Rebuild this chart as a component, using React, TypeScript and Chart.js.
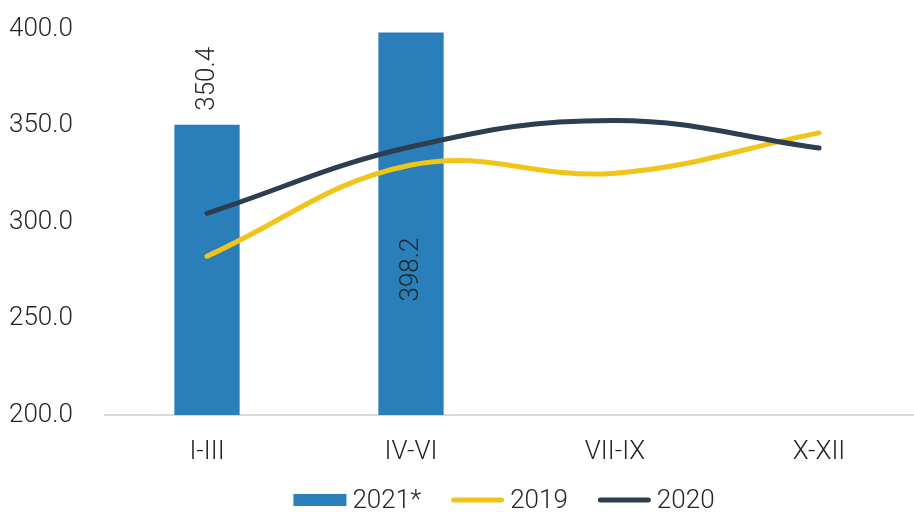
import React, { useEffect, useRef } from "react";
import { Chart, registerables } from "chart.js";

Chart.register(...registerables);

const categories = ["I-III", "IV-VI", "VII-IX", "X-XII"];
const values2021 = [350.4, 398.2, null, null];
const values2019 = [282.3, 329.5, 325.3, 346.2];
const values2020 = [304.5, 339.0, 352.6, 338.3];
const barLabels = ["350.4", "398.2"];

const FONT = "Roboto";
const TEXT = "#262626";
const FS = 26;

const barLabelPlugin = {
  id: "barLabelPlugin",
  afterDatasetsDraw(chart: any, _args: any, opts: any) {
    const ctx = chart.ctx;
    const meta = chart.getDatasetMeta(0);
    const shifts: number[] = opts.shifts || [];
    ctx.save();
    ctx.fillStyle = TEXT;
    ctx.font = `300 ${FS}px ${FONT}`;
    ctx.textAlign = "left";
    ctx.textBaseline = "middle";
    meta.data.forEach((el: any, i: number) => {
      if (!barLabels[i]) return;
      const x = el.x;
      const y = el.y + (shifts[i] || 0);
      ctx.save();
      ctx.translate(x, y);
      ctx.rotate(-Math.PI / 2);
      ctx.fillText(barLabels[i], 0, 0);
      ctx.restore();
    });
    ctx.restore();
  },
};

const legendPlugin = {
  id: "customLegend",
  afterDraw(chart: any, _args: any, opts: any) {
    const ctx = chart.ctx;
    const items = chart.data.datasets;
    const boxW = 53;
    const gapText = 6;
    const gapItem = 30;
    ctx.save();
    ctx.font = `300 ${FS}px ${FONT}`;
    ctx.textBaseline = "middle";
    ctx.textAlign = "left";
    const widths = items.map((d: any) => boxW + gapText + ctx.measureText(d.label).width);
    const total = widths.reduce((s: number, w: number) => s + w, 0) + gapItem * (items.length - 1);
    let x = opts.cx - total / 2;
    const cy = opts.y;
    items.forEach((d: any, i: number) => {
      if (d.type === "bar") {
        ctx.fillStyle = d.backgroundColor;
        ctx.fillRect(x, cy - 6, boxW, 12);
      } else {
        ctx.strokeStyle = d.borderColor;
        ctx.lineWidth = d.borderWidth;
        ctx.lineCap = "round";
        ctx.beginPath();
        ctx.moveTo(x + 2.5, cy);
        ctx.lineTo(x + boxW - 2.5, cy);
        ctx.stroke();
      }
      ctx.fillStyle = TEXT;
      ctx.fillText(d.label, x + boxW + gapText, cy + 1);
      x += widths[i] + gapItem;
    });
    ctx.restore();
  },
};

export default function App() {
  const ref = useRef<HTMLCanvasElement>(null);
  useEffect(() => {
    document.body.style.margin = "0";
    const chart = new Chart(ref.current as HTMLCanvasElement, {
      type: "bar",
      data: {
        labels: categories,
        datasets: [
          {
            type: "bar",
            label: "2021*",
            data: values2021 as any,
            backgroundColor: "#2a7fba",
            borderWidth: 0,
            categoryPercentage: 1,
            barPercentage: 0.32,
            order: 2,
          },
          {
            type: "line",
            label: "2019",
            data: values2019,
            borderColor: "#f1c419",
            backgroundColor: "#f1c419",
            borderWidth: 5,
            borderCapStyle: "round",
            pointRadius: 0,
            tension: 0.4,
            order: 1,
          },
          {
            type: "line",
            label: "2020",
            data: values2020,
            borderColor: "#2c3e50",
            backgroundColor: "#2c3e50",
            borderWidth: 5,
            borderCapStyle: "round",
            pointRadius: 0,
            tension: 0.4,
            order: 0,
          },
        ] as any,
      },
      options: {
        animation: false,
        responsive: true,
        maintainAspectRatio: false,
        layout: { padding: { left: 9, right: 1, top: 29, bottom: 47 } },
        plugins: {
          tooltip: { enabled: false },
          legend: { display: false },
          barLabelPlugin: { shifts: [-14, 269] },
          customLegend: { y: 500, cx: 504 },
        } as any,
        scales: {
          x: {
            grid: { display: false, drawTicks: false },
            border: { display: true, color: "#d9d9d9", width: 2 },
            afterFit: (s: any) => {
              s.height = 50;
            },
            ticks: {
              color: TEXT,
              padding: 22,
              font: { family: FONT, size: FS, weight: "300" },
            },
          },
          y: {
            min: 200,
            max: 400,
            grid: { display: false, drawTicks: false },
            border: { display: false },
            afterFit: (s: any) => {
              s.width = 96;
            },
            ticks: {
              stepSize: 50,
              color: TEXT,
              padding: 0,
              crossAlign: "far",
              font: { family: FONT, size: FS, weight: "300" },
              callback: (v: any) => Number(v).toFixed(1),
            },
          },
        },
      },
      plugins: [barLabelPlugin, legendPlugin],
    });
    return () => chart.destroy();
  }, []);
  return (
    <div style={{ width: 914, height: 512, overflow: "hidden", position: "relative" }}>
      <div style={{ width: 922, height: 512, position: "relative" }}>
        <canvas ref={ref} />
      </div>
    </div>
  );
}
